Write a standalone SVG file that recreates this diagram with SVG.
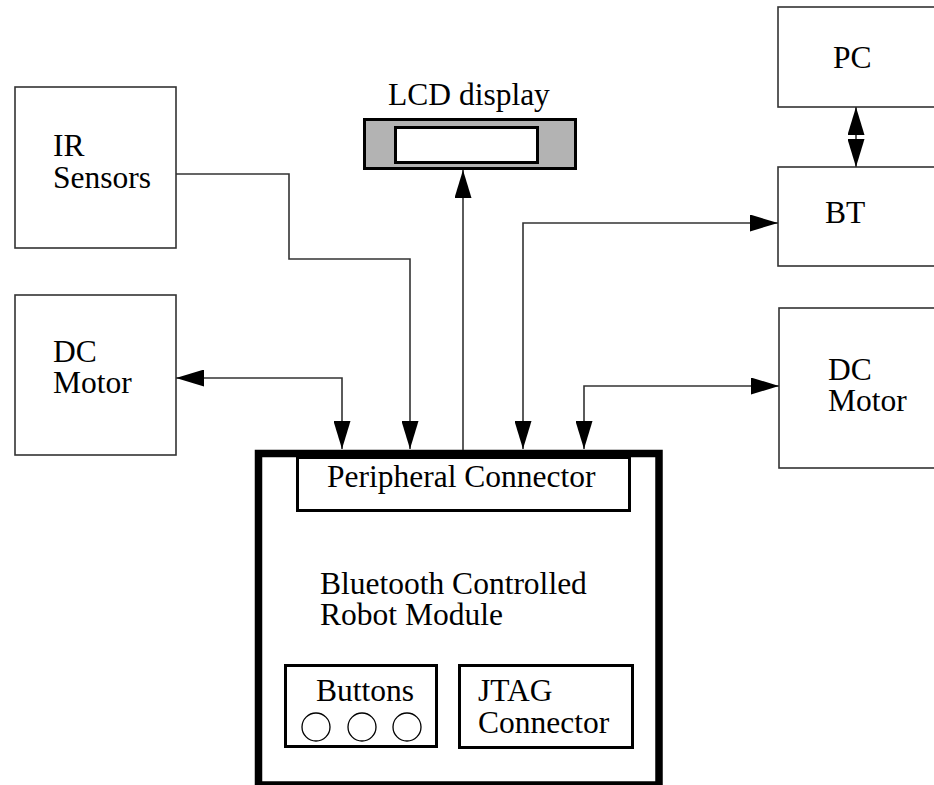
<svg xmlns="http://www.w3.org/2000/svg" width="934" height="785" viewBox="0 0 934 785">
<style>
.box{fill:#fff;stroke:#333;stroke-width:1.6}
.thick{fill:#fff;stroke:#000;stroke-width:3}
.t{font-family:"Liberation Serif","Times New Roman",serif;font-size:31.5px;fill:#000}
.ln{fill:none;stroke:#333;stroke-width:1.6}
</style>
<defs>
<marker id="ah" viewBox="0 0 28 17" refX="28" refY="8.5" markerWidth="28" markerHeight="17" markerUnits="userSpaceOnUse" orient="auto-start-reverse">
<path d="M0,0 L28,8.5 L0,17 Z" fill="#000"/>
</marker>
</defs>
<rect width="934" height="785" fill="#fff"/>
<g id="ir-sensors">
<rect class="box" x="15" y="87" width="161" height="161"/>
<text class="t" x="53" y="156">IR</text>
<text class="t" x="53" y="188">Sensors</text>
</g>
<g id="dc-motor-left">
<rect class="box" x="15" y="295" width="161" height="160"/>
<text class="t" x="53" y="362">DC</text>
<text class="t" x="53" y="393">Motor</text>
</g>
<g id="lcd-display">
<text class="t" x="388" y="105">LCD display</text>
<rect x="364.5" y="119.5" width="211" height="49" fill="#b3b3b3" stroke="#000" stroke-width="3"/>
<rect x="395.5" y="127.5" width="142" height="35" fill="#fff" stroke="#000" stroke-width="3"/>
</g>
<g id="pc">
<rect class="box" x="778" y="7" width="170" height="100"/>
<text class="t" x="833" y="68">PC</text>
</g>
<g id="bt">
<rect class="box" x="778" y="167" width="170" height="99"/>
<text class="t" x="825" y="223">BT</text>
</g>
<g id="dc-motor-right">
<rect class="box" x="779" y="308" width="170" height="160"/>
<text class="t" x="828" y="380">DC</text>
<text class="t" x="828" y="411">Motor</text>
</g>
<g id="robot-module">
<rect x="258.5" y="453.5" width="400.5" height="331.5" fill="#fff" stroke="#000" stroke-width="7.5"/>
<g id="peripheral-connector">
<rect class="thick" x="297.5" y="457.5" width="332" height="53"/>
<text class="t" x="327" y="487">Peripheral Connector</text>
</g>
<text class="t" x="320" y="594">Bluetooth Controlled</text>
<text class="t" x="320" y="625">Robot Module</text>
<g id="buttons">
<rect class="thick" x="285.5" y="665.5" width="151" height="81"/>
<text class="t" x="316" y="701">Buttons</text>
<circle cx="316" cy="727" r="14" fill="none" stroke="#000" stroke-width="1.3"/>
<circle cx="362" cy="727" r="14" fill="none" stroke="#000" stroke-width="1.3"/>
<circle cx="407" cy="727" r="14" fill="none" stroke="#000" stroke-width="1.3"/>
</g>
<g id="jtag">
<rect class="thick" x="459.5" y="665.5" width="173" height="82"/>
<text class="t" x="478" y="701">JTAG</text>
<text class="t" x="478" y="733">Connector</text>
</g>
</g>
<g id="connectors">
<path class="ln" d="M176,174 H289 V259 H410 V449" marker-end="url(#ah)"/>
<path class="ln" d="M176,378 H342 V449" marker-start="url(#ah)" marker-end="url(#ah)"/>
<path class="ln" d="M463,450 V170" marker-end="url(#ah)"/>
<path class="ln" d="M778,223 H523 V449" marker-start="url(#ah)" marker-end="url(#ah)"/>
<path class="ln" d="M779,386 H584 V449" marker-start="url(#ah)" marker-end="url(#ah)"/>
<path class="ln" d="M856,107 V167" marker-start="url(#ah)" marker-end="url(#ah)"/>
</g>
</svg>
